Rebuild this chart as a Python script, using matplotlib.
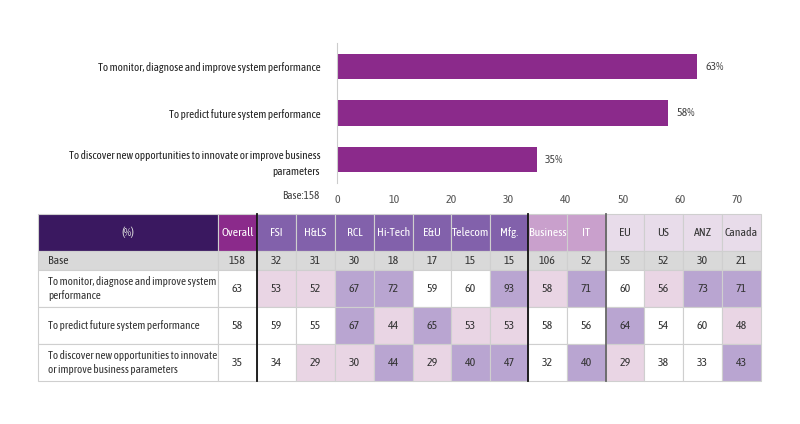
import numpy as np
import matplotlib.pyplot as plt
from matplotlib.patches import Rectangle

plt.rcParams['font.family'] = ['Asap Condensed', 'DejaVu Sans']

# bar chart data
reasons = ['To monitor, diagnose and improve system performance',
           'To predict future system performance',
           'To discover new opportunities to innovate or improve business\nparameters']
overall_pct = [63, 58, 35]
base_total = 158

# table data
row_labels = ['To monitor, diagnose and improve system\nperformance',
              'To predict future system performance',
              'To discover new opportunities to innovate\nor improve business parameters']
columns = ['Overall', 'FSI', 'H&LS', 'RCL', 'Hi-Tech', 'E&U', 'Telecom', 'Mfg.',
           'Business', 'IT', 'EU', 'US', 'ANZ', 'Canada']
bases = [158, 32, 31, 30, 18, 17, 15, 15, 106, 52, 55, 52, 30, 21]
values = [
    [63, 53, 52, 67, 72, 59, 60, 93, 58, 71, 60, 56, 73, 71],
    [58, 59, 55, 67, 44, 65, 53, 53, 58, 56, 64, 54, 60, 48],
    [35, 34, 29, 30, 44, 29, 40, 47, 32, 40, 29, 38, 33, 43],
]

BAR = '#8b2a8b'
DARK = '#3a1860'
IND = '#8261ab'
FUNC = '#c9a0cc'
REG = '#e8dcea'
GREY = '#d9d9d9'
HI = '#b9a5d1'
LO = '#e9d5e4'
TXT = '#333333'

fig = plt.figure(figsize=(8, 4.24), dpi=100)

# ---- bar chart ----
ax = fig.add_axes([337 / 800, 1 - 183 / 424, 400 / 800, 140 / 424])
y = np.arange(len(reasons))
ax.barh(y, overall_pct, height=0.54, color=BAR)
for yi, v in zip(y, overall_pct):
    ax.text(v + 1.4, yi, f'{v}%', va='center', ha='left', fontsize=8.5, color='#444444')
ax.set_xlim(0, 70)
ax.set_ylim(2.505, -0.505)
ax.set_yticks(y)
ax.set_yticklabels(reasons, fontsize=8, color='#222222', linespacing=1.6)
ax.set_xticks(range(0, 71, 10))
ax.tick_params(axis='x', length=0, labelsize=8.5, labelcolor='#555555', pad=8)
ax.tick_params(axis='y', length=0, pad=12)
for s in ['top', 'right', 'bottom']:
    ax.spines[s].set_visible(False)
ax.spines['left'].set_color('#cccccc')
ax.text(-3, 2.78, f'Base:{base_total}', ha='right', va='center', fontsize=8,
        color='#444444', clip_on=False)

# ---- table ----
tx = fig.add_axes([0, 0, 1, 1])
tx.set_xlim(0, 800)
tx.set_ylim(424, 0)
tx.axis('off')

col_x = [38, 218, 257, 296, 335, 374, 413, 451, 490, 528, 567, 606, 644, 683, 722, 761]
row_y = [214, 251, 270, 307, 344, 381]


def cell(x0, x1, y0, y1, fc, text, color=TXT, ha='center', size=8.5):
    tx.add_patch(Rectangle((x0, y0), x1 - x0, y1 - y0, facecolor=fc,
                           edgecolor='#cfcfcf', linewidth=0.8))
    tx_x = (x0 + x1) / 2 if ha == 'center' else x0 + 10
    tx.text(tx_x, (y0 + y1) / 2, text, ha=ha, va='center', fontsize=size,
            color=color, linespacing=1.3)


# header
cell(col_x[0], col_x[1], row_y[0], row_y[1], DARK, '(%)', color='#dddddd')
for j, name in enumerate(columns):
    if j == 0:
        fc, c = BAR, 'white'
    elif j <= 7:
        fc, c = IND, 'white'
    elif j <= 9:
        fc, c = FUNC, 'white'
    else:
        fc, c = REG, TXT
    cell(col_x[j + 1], col_x[j + 2], row_y[0], row_y[1], fc, name, color=c)

# base row
cell(col_x[0], col_x[1], row_y[1], row_y[2], GREY, 'Base', ha='left')
for j, b in enumerate(bases):
    cell(col_x[j + 1], col_x[j + 2], row_y[1], row_y[2], GREY, str(b))

# value rows, shaded against overall
for i, (lab, vals) in enumerate(zip(row_labels, values)):
    y0, y1 = row_y[i + 2], row_y[i + 3]
    cell(col_x[0], col_x[1], y0, y1, 'white', lab, ha='left', size=8)
    for j, v in enumerate(vals):
        d = v - vals[0]
        fc = HI if (j > 0 and d >= 4) else (LO if (j > 0 and d <= -5) else 'white')
        cell(col_x[j + 1], col_x[j + 2], y0, y1, fc, str(v))

# group separators
for xs, c in [(col_x[2], '#111111'), (col_x[9], '#111111'), (col_x[11], '#666666')]:
    tx.plot([xs, xs], [row_y[0], row_y[-1]], color=c, linewidth=1.3)

fig.savefig('out.png', dpi=100)
